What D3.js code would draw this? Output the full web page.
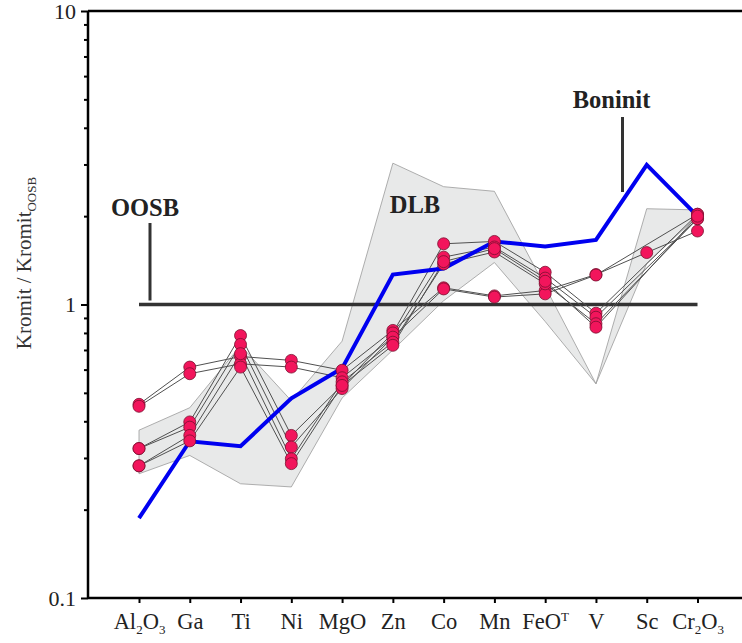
<!DOCTYPE html>
<html>
<head>
<meta charset="utf-8">
<script src="https://cdn.jsdelivr.net/npm/d3@7"></script>
<style>
  body { margin: 0; background: #fff; }
  svg { display: block; }
</style>
</head>
<body>
<div id="chart"></div>
<script>
// categories, "_x" = subscript, "^x" = superscript
var categories = ["Al_2O_3", "Ga", "Ti", "Ni", "MgO", "Zn", "Co", "Mn", "FeO^T", "V", "Sc", "Cr_2O_3"];

// Boninit reference line (blue)
var boninit = [0.187, 0.342, 0.329, 0.479, 0.606, 1.265, 1.326, 1.64, 1.575, 1.66, 2.99, 2.0];

// DLB field (grey polygon)
var dlbUpper = [0.373, 0.445, 0.725, 0.47, 0.75, 3.03, 2.52, 2.43, 1.15, 0.537, 2.12, 2.1];
var dlbLower = [0.265, 0.306, 0.245, 0.239, 0.48, 0.70, 1.03, 1.39, 0.875, 0.537, 1.38, 2.0];

// chromite samples (null = not analysed)
var sample1 = [0.457, 0.612, 0.665, 0.645, 0.597, 0.816, 1.14, 1.07, 1.116, 1.265, 1.503, 1.78];
var sample2 = [0.45, 0.581, 0.628, 0.612, 0.563, 0.774, 1.13, 1.06, 1.087, 1.26, null, 2.03];
var sample3 = [0.323, 0.398, 0.784, 0.358, 0.53, 0.80, 1.61, 1.64, 1.288, 0.934, null, 2.03];
var sample4 = [0.323, 0.382, 0.731, 0.327, 0.517, 0.774, 1.45, 1.57, 1.23, 0.905, null, 1.96];
var sample5 = [0.282, 0.358, 0.68, 0.298, 0.545, 0.744, 1.375, 1.51, 1.176, 0.86, null, 1.96];
var sample6 = [0.282, 0.343, 0.612, 0.287, 0.53, 0.726, 1.40, 1.55, 1.20, 0.837, null, 2.0];
var samples = [sample1, sample2, sample3, sample4, sample5, sample6];

var oosbLevel = 1;
var majorTicks = [0.1, 1, 10];
var minorTicks = [0.2, 0.3, 0.4, 0.5, 0.6, 0.7, 0.8, 0.9, 2, 3, 4, 5, 6, 7, 8, 9];

var width = 742, height = 643;
var margin = {top: 11, right: 0, bottom: 45, left: 88};
var innerW = width - margin.left - margin.right,
    innerH = height - margin.top - margin.bottom;
var serif = "'Liberation Serif', 'Times New Roman', serif";

var svg = d3.select("#chart").append("svg")
  .attr("width", width)
  .attr("height", height);

var g = svg.append("g")
  .attr("transform", "translate(" + margin.left + "," + margin.top + ")");

var x = d3.scalePoint().domain(categories).range([51, 609.5]);
var y = d3.scaleLog().domain([0.1, 10]).range([innerH, 0]);

function pts(arr) {
  return arr.map(function (v, i) { return {c: categories[i], v: v}; })
    .filter(function (d) { return d.v != null; });
}

var line = d3.line()
  .x(function (d) { return x(d.c); })
  .y(function (d) { return y(d.v); });

// DLB field
var field = pts(dlbUpper).concat(pts(dlbLower).reverse());
g.append("path")
  .datum(field)
  .attr("d", line.curve(d3.curveLinearClosed))
  .attr("fill", "#e8e9e9")
  .attr("stroke", "#9a9a9a")
  .attr("stroke-width", 0.8);
line.curve(d3.curveLinear);

// OOSB reference line
g.append("line")
  .attr("x1", x(categories[0])).attr("x2", x(categories[categories.length - 1]))
  .attr("y1", y(oosbLevel)).attr("y2", y(oosbLevel))
  .attr("stroke", "#333")
  .attr("stroke-width", 3.5);

// sample lines
g.selectAll(".sample")
  .data(samples)
  .enter().append("path")
  .attr("class", "sample")
  .attr("d", function (s) { return line(pts(s)); })
  .attr("fill", "none")
  .attr("stroke", "#505050")
  .attr("stroke-width", 1);

// Boninit
g.append("path")
  .datum(pts(boninit))
  .attr("d", line)
  .attr("fill", "none")
  .attr("stroke", "#0000f0")
  .attr("stroke-width", 4);

// sample dots
var dots = [];
samples.forEach(function (s) { dots = dots.concat(pts(s)); });
g.selectAll(".dot")
  .data(dots)
  .enter().append("circle")
  .attr("class", "dot")
  .attr("cx", function (d) { return x(d.c); })
  .attr("cy", function (d) { return y(d.v); })
  .attr("r", 6)
  .attr("fill", "#f2155c")
  .attr("stroke", "#7a1030")
  .attr("stroke-width", 0.8);

// axes
g.append("g")
  .call(d3.axisLeft(y).tickValues(minorTicks).tickSize(4).tickFormat(""))
  .call(function (a) { a.select(".domain").remove(); a.selectAll("line").attr("stroke-width", 2); });

g.append("g")
  .call(d3.axisLeft(y).tickValues(majorTicks).tickSize(7).tickPadding(5)
    .tickFormat(function (d) { return d; }))
  .call(function (a) {
    a.select(".domain").remove();
    a.selectAll("line").attr("stroke-width", 2);
    a.selectAll("text").style("font", "22px " + serif).attr("fill", "#222");
  });

var xAxis = g.append("g")
  .attr("transform", "translate(0," + innerH + ")")
  .call(d3.axisBottom(x).tickSize(5))
  .call(function (a) {
    a.select(".domain").remove();
    a.selectAll("line").attr("stroke-width", 2);
  });

xAxis.selectAll("text")
  .style("font", "22.5px " + serif)
  .attr("fill", "#222")
  .attr("y", 31)
  .attr("dy", null)
  .text(null)
  .each(function (lab) {
    var t = d3.select(this);
    var re = /([_^])(.)|([^_^]+)/g, m, shift = 0;
    while ((m = re.exec(lab)) !== null) {
      if (m[3]) {
        var ts = t.append("tspan").text(m[3]);
        if (shift) ts.attr("dy", -shift);
        shift = 0;
      } else {
        var s = m[1] === "_" ? 5 : -8;
        t.append("tspan").attr("dy", s - shift).style("font-size", "13px").text(m[2]);
        shift = s;
      }
    }
  });

// frame
g.append("line").attr("x1", 0).attr("x2", innerW).attr("y1", 0).attr("y2", 0)
  .attr("stroke", "#000").attr("stroke-width", 2.5);
g.append("line").attr("x1", 0).attr("x2", innerW).attr("y1", innerH).attr("y2", innerH)
  .attr("stroke", "#000").attr("stroke-width", 2.5);
g.append("line").attr("x1", 0).attr("x2", 0).attr("y1", 0).attr("y2", innerH)
  .attr("stroke", "#000").attr("stroke-width", 2.5);

// y label
var yl = svg.append("text")
  .attr("transform", "translate(31,263) rotate(-90)")
  .attr("text-anchor", "middle")
  .style("font", "21px " + serif)
  .attr("fill", "#333");
yl.append("tspan").text("Kromit / Kromit");
yl.append("tspan").attr("dy", 5).style("font-size", "13px").text("OOSB");

// annotations
function label(txt, cx, by) {
  g.append("text")
    .attr("x", cx).attr("y", by)
    .attr("text-anchor", "middle")
    .style("font", "bold 24.5px " + serif)
    .attr("fill", "#222")
    .text(txt);
}
label("OOSB", 145 - margin.left, 216 - margin.top);
label("DLB", 415 - margin.left, 213 - margin.top);
label("Boninit", 611.5 - margin.left, 108 - margin.top);

g.append("line")
  .attr("x1", 150 - margin.left).attr("x2", 150 - margin.left)
  .attr("y1", 223 - margin.top).attr("y2", y(oosbLevel) - 4)
  .attr("stroke", "#333").attr("stroke-width", 3);
g.append("line")
  .attr("x1", 622.5 - margin.left).attr("x2", 622.5 - margin.left)
  .attr("y1", 117 - margin.top).attr("y2", 192 - margin.top)
  .attr("stroke", "#333").attr("stroke-width", 3);
</script>
</body>
</html>
